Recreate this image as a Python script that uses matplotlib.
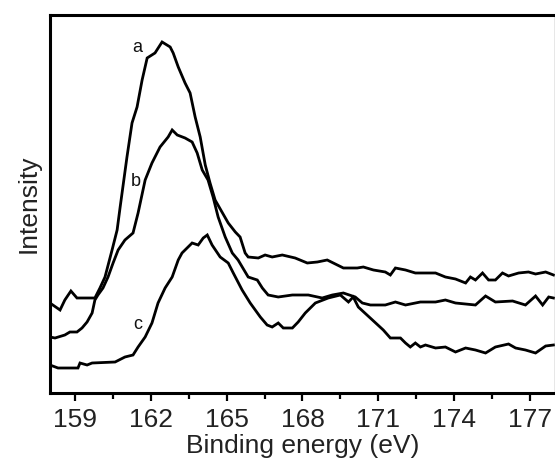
import numpy as np
import matplotlib
matplotlib.use("Agg")
import matplotlib.pyplot as plt
from matplotlib.ticker import MultipleLocator

plt.rcParams['font.family'] = ['Liberation Sans', 'DejaVu Sans']

# curve a
energy_a = [158.00, 158.40, 158.59, 158.83, 159.07, 159.78, 159.98, 160.18, 160.46, 160.66,
            160.78, 161.05, 161.25, 161.45, 161.65, 161.85, 162.16, 162.44, 162.76, 162.88,
            163.08, 163.35, 163.55, 163.75, 163.95, 164.15, 164.34, 164.54, 165.06, 165.34,
            165.53, 165.73, 165.85, 166.25, 166.52, 166.80, 167.20, 167.71, 168.19, 168.59,
            168.98, 169.22, 169.62, 170.17, 170.41, 170.81, 171.28, 171.48, 171.68, 172.08,
            172.47, 173.27, 173.66, 174.06, 174.46, 174.65, 174.85, 175.13, 175.37, 175.64,
            175.92, 176.16, 176.56, 176.95, 177.23, 177.63, 177.94]
intensity_a = [90, 83, 93, 102, 95, 95, 105, 116, 143, 163,
               186, 236, 270, 286, 313, 335, 340, 351, 346, 340,
               326, 310, 300, 276, 256, 228, 210, 193, 170, 161,
               156, 140, 136, 135, 138, 136, 138, 135, 130, 131,
               133, 130, 125, 125, 126, 123, 121, 118, 125, 123,
               120, 120, 116, 114, 110, 116, 113, 120, 113, 113,
               120, 117, 120, 121, 119, 121, 118]

# curve b
energy_b = [158.00, 158.20, 158.59, 158.79, 159.07, 159.27, 159.47, 159.67, 159.78, 159.90,
            160.10, 160.30, 160.50, 160.70, 160.97, 161.29, 161.49, 161.77, 162.04, 162.36,
            162.68, 162.84, 163.04, 163.35, 163.63, 163.83, 164.03, 164.26, 164.46, 164.66,
            164.94, 165.22, 165.45, 165.85, 166.21, 166.41, 166.64, 167.04, 167.60, 168.23,
            168.78, 169.18, 169.62, 170.09, 170.37, 170.69, 171.28, 171.68, 172.08, 172.67,
            173.27, 173.66, 174.06, 174.85, 175.25, 175.64, 176.32, 176.83, 177.23, 177.51,
            177.75, 177.94]
intensity_b = [56, 55, 58, 61, 61, 65, 71, 80, 93, 98,
               105, 116, 130, 143, 153, 160, 180, 213, 230, 246,
               256, 263, 258, 255, 251, 240, 223, 213, 196, 176,
               156, 140, 133, 116, 113, 105, 98, 96, 98, 98,
               95, 98, 100, 96, 90, 88, 88, 91, 88, 91,
               91, 93, 90, 88, 97, 91, 92, 88, 97, 88,
               96, 95]

# curve c
energy_c = [158.00, 158.32, 159.11, 159.19, 159.47, 159.67, 160.58, 160.97, 161.29, 161.49,
            161.77, 162.04, 162.28, 162.56, 162.84, 163.08, 163.23, 163.63, 163.87, 164.07,
            164.23, 164.42, 164.74, 165.06, 165.26, 165.61, 165.93, 166.33, 166.60, 166.80,
            167.04, 167.24, 167.60, 167.83, 168.11, 168.51, 169.02, 169.50, 169.82, 170.01,
            170.21, 170.77, 171.20, 171.48, 171.88, 172.08, 172.27, 172.47, 172.67, 172.87,
            173.27, 173.66, 174.06, 174.46, 174.85, 175.25, 175.64, 176.16, 176.44, 176.83,
            177.23, 177.63, 177.94]
intensity_c = [28, 25, 25, 30, 28, 30, 31, 36, 38, 46,
               56, 70, 90, 105, 116, 133, 140, 150, 148, 155,
               158, 148, 136, 130, 120, 103, 90, 76, 68, 66,
               70, 65, 65, 71, 80, 90, 95, 98, 91, 96,
               86, 73, 63, 55, 55, 50, 46, 50, 46, 48,
               45, 46, 41, 45, 43, 40, 46, 49, 45, 43,
               40, 47, 48]

labels = ['a', 'b', 'c']
label_pos = [(161.45, 345), (161.41, 211), (161.49, 68)]

fig = plt.figure(figsize=(5.55, 4.61), dpi=100)
ax = fig.add_axes([0.090, 0.1475, 0.910, 0.82])

for e, i in [(energy_a, intensity_a), (energy_b, intensity_b), (energy_c, intensity_c)]:
    ax.plot(e, i, color='black', lw=2.0, solid_joinstyle='miter')

for lab, (x, y) in zip(labels, label_pos):
    ax.text(x, y, lab, fontsize=13, ha='center', va='center', color='#111111')

ax.set_xlim(158, 178)
ax.set_ylim(0, 378)
ax.xaxis.set_major_locator(MultipleLocator(3))
ax.xaxis.set_minor_locator(MultipleLocator(1.5))
ax.set_yticks([])
ax.tick_params(axis='x', which='major', direction='out', length=6, width=1.6,
               labelsize=19, labelcolor='#222222', pad=5)
ax.tick_params(axis='x', which='minor', direction='out', length=4, width=1.6)

for s in ['left', 'top', 'bottom']:
    ax.spines[s].set_linewidth(2.2)
ax.spines['right'].set_linewidth(1.0)
ax.spines['right'].set_color('#888888')

ax.set_xlabel('Binding energy (eV)', fontsize=19, color='#222222', labelpad=1)
ax.set_ylabel('Intensity', fontsize=19, color='#222222', labelpad=7)

fig.savefig('out.png', dpi=100)
